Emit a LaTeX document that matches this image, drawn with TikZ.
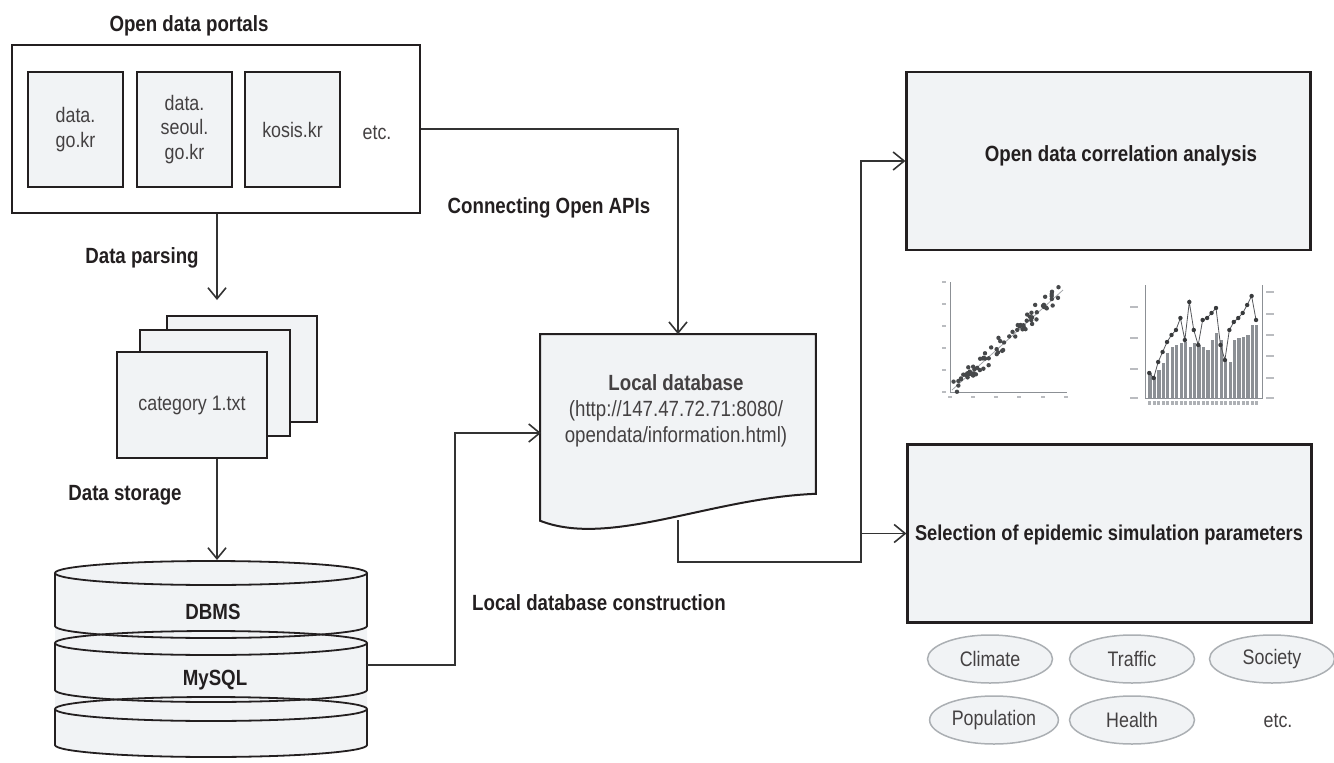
\documentclass[tikz,border=0pt]{standalone}
\usepackage{fontspec}
\setmainfont{Liberation Sans}[FakeStretch=0.85]
\usepackage{tikz}
\usetikzlibrary{arrows.meta,shapes.geometric,positioning}

\definecolor{paper}{HTML}{F1F3F5}
\definecolor{ink}{HTML}{231F20}
\definecolor{wire}{HTML}{333333}
\definecolor{tagline}{HTML}{ABAFB3}
\definecolor{chart}{HTML}{8C9095}

\begin{document}
\begin{tikzpicture}[x=1pt,y=-1pt,line width=1.6pt,
	>={Straight Barb[length=11pt,width=18pt]},
	lbl/.style={font=\fontsize{22}{26}\selectfont\bfseries,text=ink},
	txt/.style={font=\fontsize{21}{24.5}\selectfont,text=ink!85},
	sitebox/.style={draw=ink,line width=2pt,fill=paper,minimum width=95pt,minimum height=115pt,align=center,txt},
	page/.style={draw=ink,line width=2pt,fill=paper,minimum width=150pt,minimum height=106pt},
	bigbox/.style={draw=ink,line width=2.2pt,fill=paper,minimum width=404pt,minimum height=178pt},
	tag/.style={ellipse,draw=tagline,line width=1.5pt,fill=paper,minimum width=125pt,minimum height=48pt,txt},
	flow/.style={draw=wire,->}]
	\newcommand\DbDisk[2]{
		\draw[ink,line width=1.8pt] (211,#1) ellipse[x radius=156pt,y radius=12pt];
		\draw[ink,line width=1.8pt] (55,#1) -- (55,#2) arc[start angle=180,end angle=360,x radius=156pt,y radius=12pt] -- (367,#1);
	}

	\useasboundingbox (0,0) rectangle (1334,763);

	% open data portals
	\node[lbl] (portaltitle) at (189,26) {Open data portals};
	\node[draw=ink,line width=2pt,minimum width=408pt,minimum height=168pt] (portals) at (216,129) {};
	\node[sitebox] (datagokr) at (75.5,129.5) {data.\\go.kr};
	\node[sitebox] (seoul) at (184.5,129.5) {data.\\seoul.\\go.kr};
	\node[sitebox] (kosis) at (292.5,129.5) {kosis.kr};
	\node[txt] (portaletc) at (377,133) {etc.};

	% parsing
	\coordinate (parseend) at (217,300);
	\draw[flow] (portals.south -| parseend) -- (parseend);
	\node[lbl] (parselbl) at (142,258) {Data parsing};

	\node[page] (page3) at (242,369) {};
	\node[page] (page2) at (215,383) {};
	\node[page,txt] (page1) at (192,405) {category 1.txt};

	% storage
	\coordinate (storeend) at (217,560);
	\draw[flow] (page1.south -| storeend) -- (storeend);
	\node[lbl] (storelbl) at (125,495) {Data storage};

	\fill[paper] (55,573) -- (55,745) arc[start angle=180,end angle=360,x radius=156pt,y radius=12pt] -- (367,573) arc[start angle=0,end angle=180,x radius=156pt,y radius=12pt] -- cycle;
	\DbDisk{709}{745}
	\DbDisk{643}{690}
	\DbDisk{573}{626}
	\node[lbl] (dbms) at (213,612) {DBMS};
	\node[lbl] (mysql) at (215,680) {MySQL};

	% local database
	\node[minimum width=274pt,minimum height=158pt,inner sep=0pt] (localdb) at (678,414) {};
	\draw[ink,line width=2pt,fill=paper] (localdb.north west) -- ([yshift=-27pt]localdb.south west)
		.. controls (610,548) and (710,498) .. (localdb.south east) -- (localdb.north east) -- cycle;
	\node[txt,font=\fontsize{22}{26}\selectfont,align=center] (ldtext) at (676,411)
		{\textbf{Local database}\\(http://147.47.72.71:8080/\\opendata/information.html)};

	\draw[flow] (portals.east) -| (localdb.north);
	\node[lbl] (apilbl) at (549,208) {Connecting Open APIs};

	\coordinate (dbout) at (367,665);
	\coordinate (ldin) at (541,433);
	\draw[flow] (dbout) -- (455,665) |- (ldin);
	\node[lbl] (buildlbl) at (599,603) {Local database construction};

	% analysis side
	\node[bigbox] (corr) at (1108.5,161) {};
	\node[lbl] (corrlbl) at (1121,156) {Open data correlation analysis};
	\node[bigbox] (params) at (1109.5,533.5) {};
	\node[lbl,font=\fontsize{21.5}{26}\selectfont\bfseries] (paramlbl) at (1109,535) {Selection of epidemic simulation parameters};

	\coordinate (ldout) at (678,520);
	\coordinate (fork) at (861,562);
	\draw[flow] (ldout) |- (fork) |- (corr.west);
	\draw[flow] (fork |- params.west) -- (params.west);

	% scatter plot
	\draw[chart,line width=0.8pt] (950,282) -- (950,392) -- (1067,392);
	\foreach \t in {282,304,326,348,370,392}
		\draw[chart!60,line width=1.2pt] (942,\t) -- (946,\t);
	\foreach \t in {950,973,996,1019,1043,1066}
		\draw[chart!60,line width=1.2pt] (\t-2,397) -- (\t+2,397);
	\draw[chart!80,line width=0.8pt] (952,390) -- (1063,290);
	\pgfmathsetseed{7}
	\foreach \i in {1,...,75}{
		\pgfmathsetmacro\tt{rnd}
		\pgfmathsetmacro\px{956+100*\tt+4*rand}
		\pgfmathsetmacro\py{386-92*\tt+7*rand}
		\fill[chart!50!black] (\px,\py) circle[radius=2.2pt];
	}

	% bar chart
	\draw[chart,line width=0.8pt] (1145,285) -- (1145,398) -- (1262,398) -- (1262,285);
	\foreach \t in {307,338,369,398}
		\draw[chart!60,line width=1.2pt] (1130,\t) -- (1138,\t);
	\foreach \t in {292,314,335,356,378,398}
		\draw[chart!60,line width=1.2pt] (1266,\t) -- (1274,\t);
	\foreach \h [count=\i] in {373,377,370,363,353,347,345,343,342,347,343,345,347,350,340,333,340,360,362,340,338,337,335,325,325}{
		\fill[chart] ({1144+4.45*\i},398) rectangle ++(3.2,{\h-398});
		\fill[chart!70] ({1144+4.45*\i},401) rectangle ++(3,4);
	}
	\draw[chart!60!black,line width=0.8pt] (1149.2,373) \foreach \h [count=\i from 2] in {378,362,352,342,335,330,318,340,302,330,345,320,318,313,308,345,360,330,322,318,313,305,296,320}{ -- ({1144.8+4.45*\i},\h) };
	\foreach \h [count=\i] in {373,378,362,352,342,335,330,318,340,302,330,345,320,318,313,308,345,360,330,322,318,313,305,296,320}
		\fill[chart!40!black] ({1144.8+4.45*\i},\h) circle[radius=2.2pt];

	% parameter groups
	\node[tag] (climate) at (990,659) {Climate};
	\node[tag] (traffic) at (1132,659) {Traffic};
	\node[tag] (society) at (1272,659) {Society};
	\node[tag] (population) at (994,720) {Population};
	\node[tag] (health) at (1132,720) {Health};
	\node[txt] (tagetc) at (1278,721) {etc.};
\end{tikzpicture}
\end{document}
